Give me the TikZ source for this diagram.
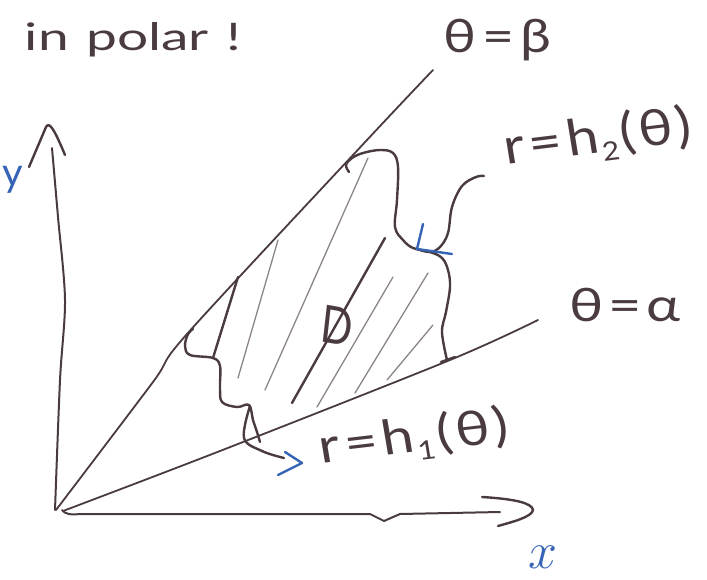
\documentclass[tikz,border=0pt]{standalone}
\usepackage{fix-cm}
\usepackage{fontspec}
\setmainfont{Lato}
\definecolor{ink}{HTML}{4A3B3F}
\definecolor{pen}{HTML}{3563B5}
\definecolor{hatch}{HTML}{8C8488}
\newcommand{\lowsub}[1]{\hspace{1pt}\raisebox{-0.18em}{\fontsize{26}{26}\selectfont #1}\hspace{3pt}}
\begin{document}
\begin{tikzpicture}[x=1pt,y=-1pt,line cap=round,line join=round,
  inkline/.style={draw=ink,line width=2.4pt},
  axisline/.style={draw=ink,line width=2pt},
  raystyle/.style={draw=ink,line width=1.8pt},
  hatchline/.style={draw=hatch,line width=1.3pt},
  barb/.style={draw=pen,line width=2.4pt},
  lbl/.style={text=ink,inner sep=0pt,anchor=center},
  bluelbl/.style={text=pen,inner sep=0pt,anchor=center}]
\useasboundingbox (0,0) rectangle (707,579);
% origin
\coordinate (O) at (57,511);
% y axis
\draw[axisline] plot[smooth] coordinates {(55,510) (60,380) (65,300) (58,217) (52,148)};
\draw[inkline] (29,167) -- (46,127) .. controls (49,122) and (53,126) .. (65,155);
% x axis
\draw[axisline] (62,510) .. controls (65,514) and (70,515) .. (80,514) -- (370,514) -- (384,521) -- (400,514) -- (500,512);
\draw[inkline] (482,497) .. controls (515,499) and (532,503) .. (533,510) .. controls (532,517) and (512,522) .. (498,526);
% rays
\draw[raystyle] plot[smooth] coordinates {(56,510) (153,382) (187,334) (367,140) (433,70)};
\draw[raystyle] plot[smooth] coordinates {(63,511) (220,451) (450,360) (538,320)};
% hatching
\draw[hatchline] (278,240) -- (238,378);
\draw[hatchline] (368,158) -- (265,390);
\draw[hatchline] (393,277) -- (317,407);
\draw[hatchline] (428,273) -- (355,393);
\draw[hatchline] (433,325) -- (387,380);
% outer boundary r = h2(theta)
\draw[inkline] plot[smooth,tension=0.6] coordinates {(349,172) (346,165) (352,158) (363,153) (380,150) (393,153) (398,167) (397,200) (395,227) (403,240) (413,248) (430,252) (442,258) (448,270) (450,287) (446,312) (442,332) (447,360)};
\draw[inkline] (441,362) -- (455,357);
% inner boundary r = h1(theta)
\draw[inkline] plot[smooth,tension=0.6] coordinates {(193,329) (188,334) (185,346) (190,355) (213,358) (220,366) (220,387) (222,402) (237,407) (249,405) (253,420) (257,432) (260,442)};
\draw[inkline] (238,277) -- (213,358);
% region label
\draw[inkline] (385,238) -- (292,403);
\node[lbl,font=\fontsize{52}{52}\selectfont,xscale=0.8,rotate=-8] (Dlbl) at (337,326) {D};
% labels
\node[lbl,font=\fontsize{38}{38}\selectfont,xscale=1.45] (title) at (133,40) {in\hspace{12pt}polar\hspace{12pt}!};
\node[lbl,font=\fontsize{46}{46}\selectfont,xscale=1.2] (beta) at (497,40) {θ\hspace{5pt}=\hspace{5pt}β};
\node[lbl,font=\fontsize{46}{46}\selectfont,xscale=1.25] (alpha) at (625,305) {θ\hspace{4pt}=\hspace{4pt}α};
\node[lbl,font=\fontsize{50}{50}\selectfont,xscale=1.15,rotate=8] (h2lbl) at (598,138) {r\hspace{4pt}=\hspace{4pt}h\lowsub{2}(\hspace{3pt}θ\hspace{3pt})};
\node[lbl,font=\fontsize{48}{48}\selectfont,xscale=1.2,rotate=8] (h1lbl) at (414,438) {r\hspace{4pt}=\hspace{4pt}h\lowsub{1}(\hspace{3pt}θ\hspace{3pt})};
\node[bluelbl,font=\fontsize{40}{40}\selectfont] (ylbl) at (13,180) {y};
\node[bluelbl,font=\fontsize{52}{52}\selectfont] (xlbl) at (543,557) {$x$};
% pointer to h2 curve
\coordinate (h2tip) at (417,249);
\coordinate (h2start) at (484,176);
\draw[inkline] plot[smooth,tension=0.6] coordinates {(h2start) (476,177) (462,186) (452,207) (448,233) (440,247) (430,252) (h2tip)};
\draw[barb] (423,224) -- (h2tip) -- (452,254);
% pointer to h1 label
\coordinate (h1start) at (250,406);
\coordinate (h1head) at (302,463);
\draw[inkline] plot[smooth,tension=0.6] coordinates {(h1start) (244,438) (262,451) (284,458)};
\draw[barb] (285,452) -- (h1head) -- (278,475);
\end{tikzpicture}
\end{document}
